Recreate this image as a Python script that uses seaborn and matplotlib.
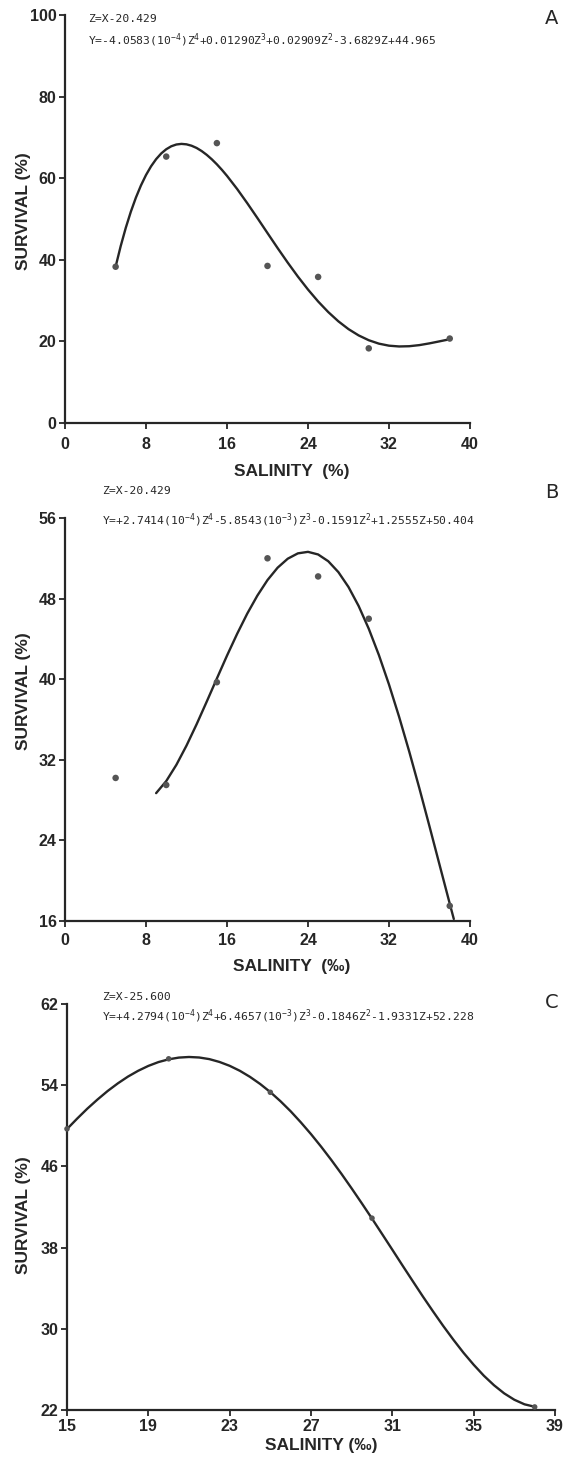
import numpy as np
import matplotlib
matplotlib.use("Agg")
import matplotlib.pyplot as plt
import seaborn as sns

# survival data (salinity in per mille, survival in %)
salinity_ab = [5, 10, 15, 20, 25, 30, 38]
survival_a = [38.3, 65.3, 68.6, 38.5, 35.8, 18.3, 20.7]
survival_b = [30.2, 29.5, 39.7, 52.0, 50.2, 46.0, 17.5]

salinity_c = [15, 20, 25, 30, 38]
survival_c = [49.7, 56.6, 53.3, 40.9, 22.3]

# fitted curves as drawn in the figure
curve_a_x = [5, 5.5, 6, 6.5, 7, 7.5, 8, 8.5, 9, 9.5, 10, 10.5, 11, 11.5, 12,
             12.5, 13, 13.5, 14, 14.5, 15, 15.5, 16, 17, 18, 19, 20, 21, 22,
             23, 24, 25, 26, 27, 28, 29, 30, 31, 32, 33, 34, 35, 36, 37, 38]
curve_a_y = [38.33, 43.35, 47.82, 51.77, 55.23, 58.22, 60.78, 62.92, 64.67,
             66.06, 67.10, 67.83, 68.26, 68.41, 68.30, 67.96, 67.41, 66.65,
             65.72, 64.63, 63.40, 62.04, 60.57, 57.36, 53.88, 50.25, 46.55,
             42.87, 39.30, 35.89, 32.71, 29.79, 27.19, 24.92, 23.01, 21.47,
             20.29, 19.45, 18.95, 18.76, 18.82, 19.09, 19.52, 20.02, 20.53]

curve_b_x = [9, 10, 11, 12, 13, 14, 15, 16, 17, 18, 19, 20, 21, 22, 23, 24,
             25, 26, 27, 28, 29, 30, 31, 32, 33, 34, 35, 36, 37, 38, 38.4]
curve_b_y = [28.69, 29.89, 31.50, 33.41, 35.53, 37.78, 40.07, 42.34, 44.50,
             46.51, 48.30, 49.84, 51.07, 51.96, 52.49, 52.64, 52.38, 51.71,
             50.63, 49.15, 47.27, 45.01, 42.40, 39.47, 36.26, 32.81, 29.17,
             25.39, 21.55, 17.72, 16.20]

curve_c_x = [15, 15.5, 16, 16.5, 17, 17.5, 18, 18.5, 19, 19.5, 20, 20.5, 21,
             21.5, 22, 22.5, 23, 23.5, 24, 24.5, 25, 25.5, 26, 26.5, 27, 27.5,
             28, 28.5, 29, 29.5, 30, 30.5, 31, 31.5, 32, 32.5, 33, 33.5, 34,
             34.5, 35, 35.5, 36, 36.5, 37, 37.5, 38]
curve_c_y = [49.68, 50.71, 51.69, 52.59, 53.43, 54.18, 54.85, 55.42, 55.90,
             56.28, 56.55, 56.72, 56.78, 56.73, 56.57, 56.29, 55.91, 55.42,
             54.82, 54.12, 53.32, 52.42, 51.43, 50.34, 49.18, 47.94, 46.63,
             45.26, 43.83, 42.36, 40.86, 39.33, 37.79, 36.24, 34.71, 33.19,
             31.72, 30.29, 28.93, 27.64, 26.46, 25.38, 24.44, 23.64, 23.01,
             22.56, 22.32]

ticks_ab_x = [0, 8, 16, 24, 32, 40]
ticks_a_y = [0, 20, 40, 60, 80, 100]
ticks_b_y = [16, 24, 32, 40, 48, 56]
ticks_c_x = [15, 19, 23, 27, 31, 35, 39]
ticks_c_y = [22, 30, 38, 46, 54, 62]

eq_a = ["Z=X-20.429",
        "Y=-4.0583(10$^{-4}$)Z$^{4}$+0.01290Z$^{3}$+0.02909Z$^{2}$-3.6829Z+44.965"]
eq_b = ["Z=X-20.429",
        "Y=+2.7414(10$^{-4}$)Z$^{4}$-5.8543(10$^{-3}$)Z$^{3}$-0.1591Z$^{2}$+1.2555Z+50.404"]
eq_c = ["Z=X-25.600",
        "Y=+4.2794(10$^{-4}$)Z$^{4}$+6.4657(10$^{-3}$)Z$^{3}$-0.1846Z$^{2}$-1.9331Z+52.228"]

sns.set_style("ticks")
plt.rcParams['font.family'] = ['Liberation Sans', 'DejaVu Sans']
plt.rcParams['mathtext.fontset'] = 'custom'
plt.rcParams['mathtext.rm'] = 'DejaVu Sans Mono'
plt.rcParams['mathtext.it'] = 'DejaVu Sans Mono'
plt.rcParams['mathtext.default'] = 'rm'

W, H = 564, 1458
fig = plt.figure(figsize=(W / 100, H / 100), dpi=100)
fig.patch.set_facecolor('white')

ink = '#262626'
dot = '#555555'


def px(x0, y_top, w, h):
    return [x0 / W, 1 - (y_top + h) / H, w / W, h / H]


axA = fig.add_axes(px(65, 15, 405, 408))
axB = fig.add_axes(px(65, 518, 405, 403))
axC = fig.add_axes(px(67, 1004, 488, 406))


def style_axis(ax, xt, yt, xlab, xlab_pos, xlab_y, ylab_pos, ylab_x, xpad):
    ax.set_xlim(xt[0], xt[-1])
    ax.set_ylim(yt[0], yt[-1])
    ax.set_xticks(xt)
    ax.set_yticks(yt)
    ax.set_facecolor('white')
    sns.despine(ax=ax)
    for s in ['left', 'bottom']:
        ax.spines[s].set_linewidth(1.6)
        ax.spines[s].set_color(ink)
    ax.tick_params(direction='out', length=4, width=1.3, colors=ink,
                   labelsize=11.5)
    ax.tick_params(axis='y', pad=2)
    ax.tick_params(axis='x', pad=xpad)
    for lab in ax.get_xticklabels() + ax.get_yticklabels():
        lab.set_fontweight('bold')
    ax.set_xlabel(xlab, fontsize=12.5, fontweight='bold', color=ink)
    ax.set_ylabel("SURVIVAL (%)", fontsize=12.5, fontweight='bold', color=ink)
    ax.xaxis.set_label_coords(xlab_pos, xlab_y)
    ax.yaxis.set_label_coords(ylab_x, ylab_pos)
    ax.grid(False)


def draw(ax, sx, sy, cx, cy, msize):
    sns.lineplot(x=cx, y=cy, ax=ax, color=ink, lw=1.7, sort=False,
                 estimator=None)
    sns.scatterplot(x=sx, y=sy, ax=ax, color=dot, s=msize, edgecolor='none',
                    zorder=3, clip_on=False)


draw(axA, salinity_ab, survival_a, curve_a_x, curve_a_y, 22)
draw(axB, salinity_ab, survival_b, curve_b_x, curve_b_y, 22)
draw(axC, salinity_c, survival_c, curve_c_x, curve_c_y, 16)

style_axis(axA, ticks_ab_x, ticks_a_y, "SALINITY  (%)", 0.56, -0.1, 0.52, -0.084, 6)
style_axis(axB, ticks_ab_x, ticks_b_y, "SALINITY  (\u2030)", 0.56, -0.095, 0.57, -0.084, 5)
style_axis(axC, ticks_c_x, ticks_c_y, "SALINITY (\u2030)", 0.52, -0.069, 0.48, -0.074, 2.5)


def eq_text(lines, x, y1, y2):
    fig.text(x / W, 1 - y1 / H, lines[0], fontsize=8.2, color=ink,
             family='DejaVu Sans Mono', va='center', ha='left')
    fig.text(x / W, 1 - y2 / H, lines[1], fontsize=8.2, color=ink,
             family='DejaVu Sans Mono', va='center', ha='left')


eq_text(eq_a, 88, 19, 40)
eq_text(eq_b, 102, 491, 520)
eq_text(eq_c, 102, 997, 1016)

for letter, y in [("A", 18), ("B", 492), ("C", 1003)]:
    fig.text(552 / W, 1 - y / H, letter, fontsize=14, color=ink,
             family='DejaVu Sans', ha='center', va='center')

fig.savefig("out.png", dpi=100, facecolor='white')
